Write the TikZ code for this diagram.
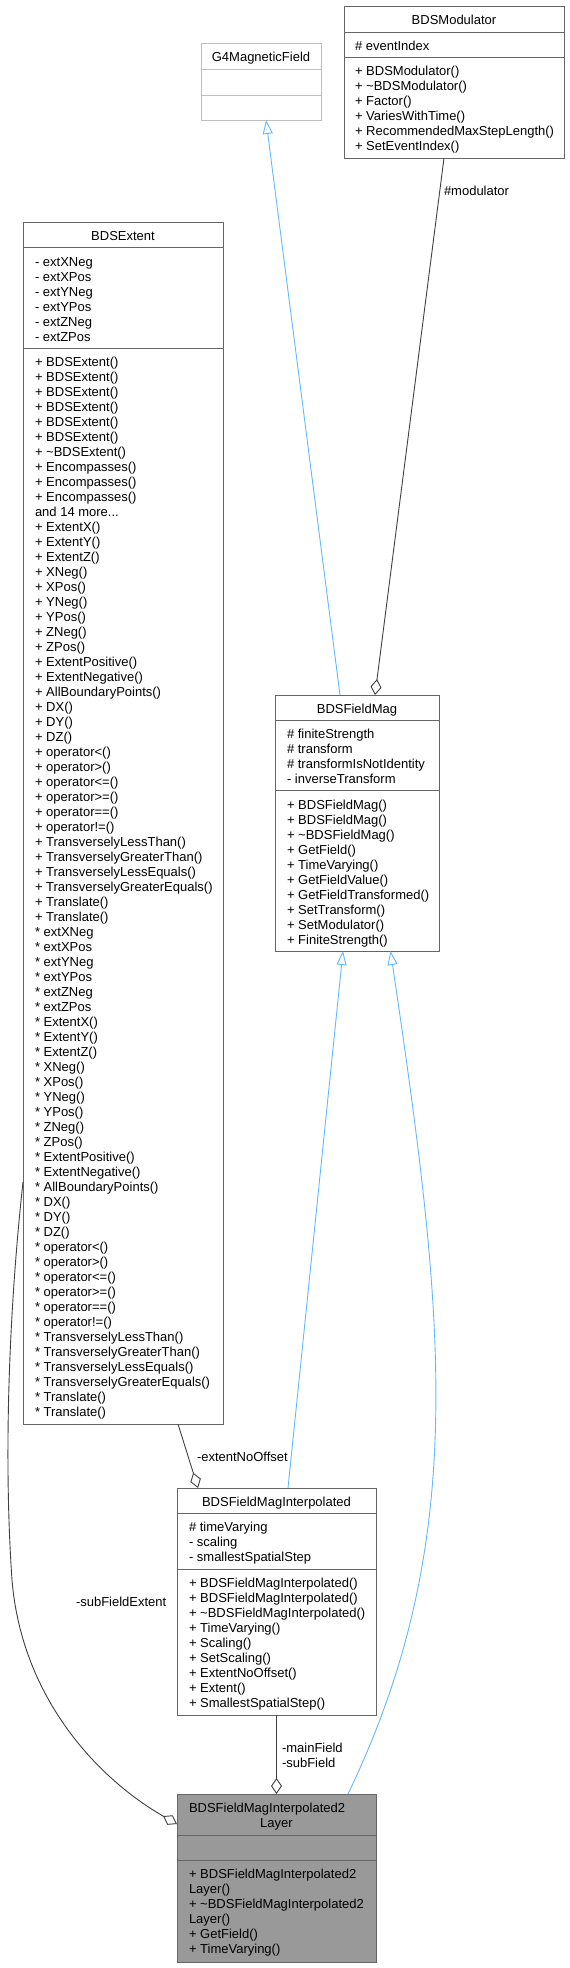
\documentclass[tikz,border=0pt]{standalone}
\usepackage{fontspec}
\setmainfont{Liberation Sans}
\usetikzlibrary{arrows.meta}
\definecolor{inh}{HTML}{63B8FF}
\definecolor{edg}{HTML}{404040}
\definecolor{brd}{HTML}{666666}
\definecolor{brdl}{HTML}{BFBFBF}
\definecolor{fillg}{HTML}{999999}
\newcommand\dfont{\fontsize{13}{15}\selectfont}
\begin{document}
\begin{tikzpicture}[x=1pt,y=-1pt,
  box/.style={draw=brd, line width=0.9pt, fill=white, inner sep=0pt, outer sep=0pt, anchor=north west},
  sepline/.style={draw=brd, line width=0.9pt},
  seplight/.style={draw=brdl, line width=0.9pt},
  txt/.style={anchor=north west, inner sep=0pt, outer sep=0pt, align=left, font=\dfont},
  ttl/.style={anchor=base, inner sep=0pt, outer sep=0pt, font=\dfont},
  lbl/.style={anchor=base west, inner sep=0pt, outer sep=0pt, font=\dfont},
  inherit/.style={draw=inh, line width=0.9pt, -{Triangle[length=14pt,width=10pt,fill=white]}},
  aggr/.style={draw=edg, line width=0.9pt, -{Diamond[length=16pt,width=11pt,fill=white]}},
]
\useasboundingbox (0,0) rectangle (570,1968);

% G4MagneticField
\node[box, draw=brdl, minimum width=120pt, minimum height=77pt] (g4) at (201,43) {};
\draw[seplight] (g4.west |- 0,69) -- (g4.east |- 0,69);
\draw[seplight] (g4.west |- 0,95) -- (g4.east |- 0,95);
\node[ttl] (g4t) at (g4.north |- 0,61) {G4MagneticField};

% BDSModulator
\node[box, minimum width=220pt, minimum height=152pt] (mod) at (344,6) {};
\draw[sepline] (mod.west |- 0,32) -- (mod.east |- 0,32);
\draw[sepline] (mod.west |- 0,57) -- (mod.east |- 0,57);
\node[ttl] (modt) at (mod.north |- 0,24.5) {BDSModulator};
\node[txt] (moda) at (355,40) {\strut\# eventIndex};
\node[txt] (modm) at (355,65) {\strut+ BDSModulator()\\+ \textasciitilde BDSModulator()\\+ Factor()\\+ VariesWithTime()\\+ RecommendedMaxStepLength()\\+ SetEventIndex()};

% BDSExtent
\node[box, minimum width=200pt, minimum height=1202pt] (ext) at (23,222) {};
\draw[sepline] (ext.west |- 0,247.5) -- (ext.east |- 0,247.5);
\draw[sepline] (ext.west |- 0,348) -- (ext.east |- 0,348);
\node[ttl] (extt) at (ext.north |- 0,240) {BDSExtent};
\node[txt] (exta) at (35,255.5) {\strut- extXNeg\\- extXPos\\- extYNeg\\- extYPos\\- extZNeg\\- extZPos};
\node[txt] (extm) at (35,356) {\strut+ BDSExtent()\\+ BDSExtent()\\+ BDSExtent()\\+ BDSExtent()\\+ BDSExtent()\\+ BDSExtent()\\+ \textasciitilde BDSExtent()\\+ Encompasses()\\+ Encompasses()\\+ Encompasses()\\and 14 more...\\+ ExtentX()\\+ ExtentY()\\+ ExtentZ()\\+ XNeg()\\+ XPos()\\+ YNeg()\\+ YPos()\\+ ZNeg()\\+ ZPos()\\+ ExtentPositive()\\+ ExtentNegative()\\+ AllBoundaryPoints()\\+ DX()\\+ DY()\\+ DZ()\\+ operator<()\\+ operator>()\\+ operator<=()\\+ operator>=()\\+ operator==()\\+ operator!=()\\+ TransverselyLessThan()\\+ TransverselyGreaterThan()\\+ TransverselyLessEquals()\\+ TransverselyGreaterEquals()\\+ Translate()\\+ Translate()\\{}* extXNeg\\{}* extXPos\\{}* extYNeg\\{}* extYPos\\{}* extZNeg\\{}* extZPos\\{}* ExtentX()\\{}* ExtentY()\\{}* ExtentZ()\\{}* XNeg()\\{}* XPos()\\{}* YNeg()\\{}* YPos()\\{}* ZNeg()\\{}* ZPos()\\{}* ExtentPositive()\\{}* ExtentNegative()\\{}* AllBoundaryPoints()\\{}* DX()\\{}* DY()\\{}* DZ()\\{}* operator<()\\{}* operator>()\\{}* operator<=()\\{}* operator>=()\\{}* operator==()\\{}* operator!=()\\{}* TransverselyLessThan()\\{}* TransverselyGreaterThan()\\{}* TransverselyLessEquals()\\{}* TransverselyGreaterEquals()\\{}* Translate()\\{}* Translate()};

% BDSFieldMag
\node[box, minimum width=164pt, minimum height=256pt] (fmag) at (275,695) {};
\draw[sepline] (fmag.west |- 0,720) -- (fmag.east |- 0,720);
\draw[sepline] (fmag.west |- 0,790.5) -- (fmag.east |- 0,790.5);
\node[ttl] (fmagt) at (fmag.north |- 0,713) {BDSFieldMag};
\node[txt] (fmaga) at (287,728) {\strut\# finiteStrength\\\# transform\\\# transformIsNotIdentity\\- inverseTransform};
\node[txt] (fmagm) at (287,798.5) {\strut+ BDSFieldMag()\\+ BDSFieldMag()\\+ \textasciitilde BDSFieldMag()\\+ GetField()\\+ TimeVarying()\\+ GetFieldValue()\\+ GetFieldTransformed()\\+ SetTransform()\\+ SetModulator()\\+ FiniteStrength()};

% BDSFieldMagInterpolated
\node[box, minimum width=199pt, minimum height=227pt] (interp) at (177,1488) {};
\draw[sepline] (interp.west |- 0,1513) -- (interp.east |- 0,1513);
\draw[sepline] (interp.west |- 0,1569) -- (interp.east |- 0,1569);
\node[ttl] (interpt) at (interp.north |- 0,1506) {BDSFieldMagInterpolated};
\node[txt] (interpa) at (189,1521) {\strut\# timeVarying\\- scaling\\- smallestSpatialStep};
\node[txt] (interpm) at (189,1577) {\strut+ BDSFieldMagInterpolated()\\+ BDSFieldMagInterpolated()\\+ \textasciitilde BDSFieldMagInterpolated()\\+ TimeVarying()\\+ Scaling()\\+ SetScaling()\\+ ExtentNoOffset()\\+ Extent()\\+ SmallestSpatialStep()};

% BDSFieldMagInterpolated2Layer
\node[box, fill=fillg, minimum width=199pt, minimum height=168pt] (fin) at (177,1794) {};
\draw[sepline] (fin.west |- 0,1835) -- (fin.east |- 0,1835);
\draw[sepline] (fin.west |- 0,1860) -- (fin.east |- 0,1860);
\node[lbl] (fint1) at (189,1812.5) {BDSFieldMagInterpolated2};
\node[ttl] (fint2) at (fin.north |- 0,1827.5) {Layer};
\node[txt] (finm) at (189,1868) {\strut+ BDSFieldMagInterpolated2\\Layer()\\+ \textasciitilde BDSFieldMagInterpolated2\\Layer()\\+ GetField()\\+ TimeVarying()};

% connectors
\draw[inherit] ([xshift=65pt]fmag.north west) -- ([xshift=65pt]g4.south west);
\draw[aggr] ([xshift=100pt]mod.south west) -- ([xshift=100pt]fmag.north west);
\node[lbl] (lmod) at (444,195.5) {\#modulator};

\draw[inherit] ([xshift=111pt]interp.north west) -- ([xshift=68pt]fmag.south west);
\draw[inherit] ([xshift=171pt]fin.north west) .. controls (470,1540) and (445,1320) .. ([xshift=115.5pt]fmag.south west);

\draw[aggr] ([xshift=155pt]ext.south west) -- ([xshift=21pt]interp.north west);
\node[lbl] (lext) at (197,1461.5) {-extentNoOffset};

\coordinate (bendA) at (12,1580);
\draw[aggr] (ext.west |- 0,1182) .. controls (10,1300) and (3,1450) .. (bendA) .. controls (22,1700) and (100,1780) .. (fin.west |- 0,1824);
\node[lbl] (lsub) at (76,1606.5) {-subFieldExtent};

\draw[aggr] (interp.south) -- (fin.north);
\node[txt] (lmain) at (282,1742) {\strut-mainField\\-subField};
\end{tikzpicture}
\end{document}
